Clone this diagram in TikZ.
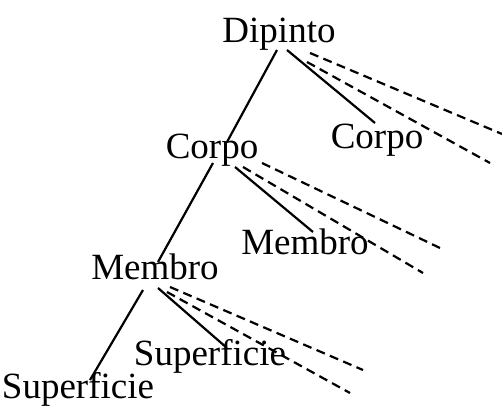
\documentclass[tikz,border=0pt]{standalone}
\usepackage{fontspec}
\setmainfont{Liberation Serif}
\usepackage{tikz}
\usetikzlibrary{calc,positioning}

\tikzset{
    word/.style={inner sep=0pt,anchor=base,font=\fontsize{37}{42}\selectfont},
    link/.style={line width=2.2pt},
    hint/.style={line width=2.2pt,dash pattern=on 9pt off 5.5pt}
}

\begin{document}
\begin{tikzpicture}[x=1pt,y=-1pt]
        \useasboundingbox (0,0) rectangle (502,406);
        \node[word] (dip) at (279,43) {Dipinto};
        \node[word] (corpoR) at (377,148) {Corpo};
        \node[word] (corpoL) at (212,158) {Corpo};
        \node[word] (membroR) at (305,254) {Membro};
        \node[word] (membroL) at (155,279) {Membro};
        \node[word] (supR) at (210,365) {Superficie};
        \node[word] (supL) at (78,398) {Superficie};
        \coordinate (dipA) at (502,134);
        \coordinate (dipB) at (490,163);
        \coordinate (corpoA) at (440,248);
        \coordinate (corpoB) at (423,273);
        \coordinate (membroA) at (363,370);
        \coordinate (membroB) at (350,393);
        \draw[link] ($(dip.base)+(-2,7)$) -- ($(corpoL.base)+(15,-16)$);
        \draw[link] ($(dip.base)+(8,7)$) -- ($(corpoR.base)+(-2,-25)$);
        \draw[link] ($(corpoL.base)+(1,5)$) -- ($(membroL.base)+(3,-17)$);
        \draw[link] ($(corpoL.base)+(23,9)$) -- ($(membroR.base)+(8,-22)$);
        \draw[link] ($(membroL.base)+(-12,11)$) -- ($(supL.base)+(12,-18)$);
        \draw[link] ($(membroL.base)+(3,9)$) -- ($(supR.base)+(17,-17)$);
        \foreach \from/\to/\dx/\dy in{dip/dipA/31/10,dip/dipB/28/19,corpoL/corpoA/50/5,corpoL/corpoB/31/9,membroL/membroA/15/8,membroL/membroB/12/13}
            \draw[hint] ($(\from.base)+(\dx,\dy)$) -- (\to);
    \end{tikzpicture}
\end{document}
